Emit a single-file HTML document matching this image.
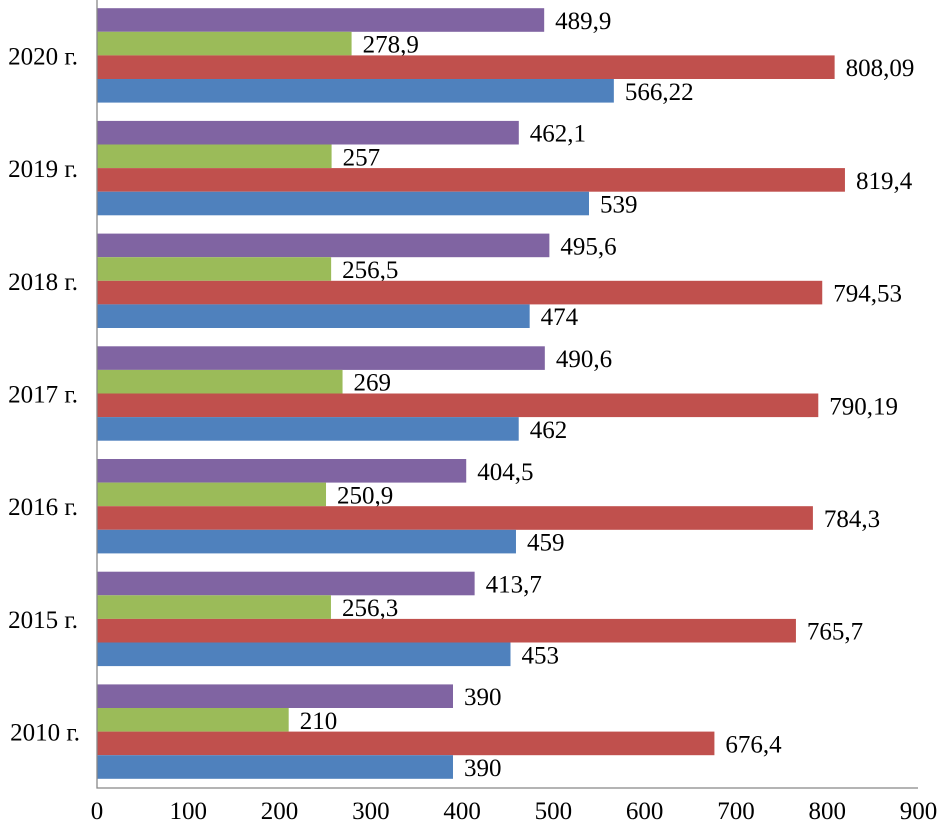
<!DOCTYPE html>
<html><head><meta charset="utf-8"><style>
body{margin:0;background:#fff}
svg text{font-family:"Liberation Serif",serif;font-size:25px;fill:#000}
</style></head><body>
<svg id="chart" width="937" height="826" xmlns="http://www.w3.org/2000/svg"></svg>
<script>
const categories=["2020 г.","2019 г.","2018 г.","2017 г.","2016 г.","2015 г.","2010 г."];
const purpleVals=[489.9,462.1,495.6,490.6,404.5,413.7,390];
const greenVals=[278.9,257,256.5,269,250.9,256.3,210];
const redVals=[808.09,819.4,794.53,790.19,784.3,765.7,676.4];
const blueVals=[566.22,539,474,462,459,453,390];
const purpleLabels=["489,9","462,1","495,6","490,6","404,5","413,7","390"];
const greenLabels=["278,9","257","256,5","269","250,9","256,3","210"];
const redLabels=["808,09","819,4","794,53","790,19","784,3","765,7","676,4"];
const blueLabels=["566,22","539","474","462","459","453","390"];
const xTicks=[0,100,200,300,400,500,600,700,800,900];

const svg=document.getElementById('chart');
const NS="http://www.w3.org/2000/svg";
const x0=97,k=0.9128,yTop=-1,band=112.7,barH=23.6;
const xs=v=>x0+v*k;
const series=[[purpleVals,purpleLabels,"#8064a2","purple"],[greenVals,greenLabels,"#9bbb59","green"],[redVals,redLabels,"#c0504d","red"],[blueVals,blueLabels,"#4f81bd","blue"]];
function mk(tag,attrs){const e=document.createElementNS(NS,tag);for(const a in attrs)e.setAttribute(a,attrs[a]);svg.appendChild(e);return e;}
categories.forEach((c,i)=>{
  const by=yTop+i*band;
  const t=mk('text',{x:i===6?80:78,y:by+band/2+9,'text-anchor':'end'});
  t.textContent=c;
  
  
  series.forEach((s,j)=>{
    const y=by+9.2+j*barH;
    const r=mk('rect',{x:x0,y:y,width:xs(s[0][i])-x0,height:barH,fill:s[2]});
    
    
    const l=mk('text',{x:xs(s[0][i])+11,y:y+barH/2+9});
    l.textContent=s[1][i];
    
    
  });
});
const ax=mk('path',{d:`M${x0} 0V788H918`,stroke:'#888',fill:'none','stroke-width':1.3});


xTicks.forEach(v=>{
  const t=mk('text',{x:xs(v),y:819,'text-anchor':'middle'});
  t.textContent=v;
  
  
});
</script>
</body></html>
